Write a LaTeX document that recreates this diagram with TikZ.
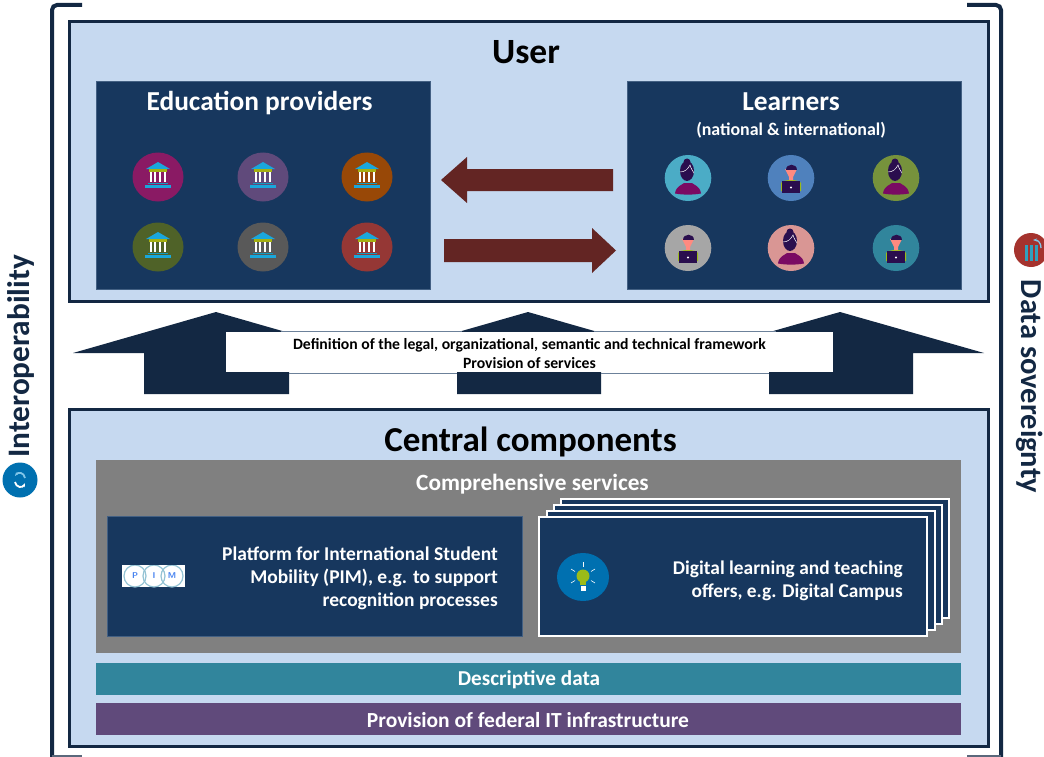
\documentclass[tikz,border=0pt]{standalone}
\usepackage{fontspec}
\setmainfont{Carlito}
\usepackage{tikz}
\usetikzlibrary{positioning,calc,arrows.meta}
\definecolor{panelblue}{HTML}{C6D9F0}
\definecolor{navy}{HTML}{17375E}
\definecolor{darkline}{HTML}{132843}
\definecolor{darkred}{HTML}{632523}
\definecolor{roofblue}{HTML}{1AA7DC}
\definecolor{barolive}{HTML}{A5B012}
\definecolor{hairdark}{HTML}{2A0E4E}
\definecolor{shirtmag}{HTML}{7A0A63}
\definecolor{facepink}{HTML}{FF8A80}
\definecolor{shirtgreen}{HTML}{9BBB19}
\definecolor{bankmag}{HTML}{8A1A64}
\definecolor{purpleband}{HTML}{604A7B}
\definecolor{bankorange}{HTML}{984807}
\definecolor{bankolive}{HTML}{4F6228}
\definecolor{bankgrey}{HTML}{595959}
\definecolor{bankred}{HTML}{953735}
\definecolor{learncyan}{HTML}{4BACC6}
\definecolor{learnblue}{HTML}{4F81BD}
\definecolor{learnolive}{HTML}{76923C}
\definecolor{learngrey}{HTML}{A6A6A6}
\definecolor{learnpink}{HTML}{D99694}
\definecolor{tealband}{HTML}{31859C}
\definecolor{iconblue}{HTML}{0070B0}
\definecolor{iconred}{HTML}{A5332E}
\definecolor{barteal}{HTML}{31A0BE}
\definecolor{pimblue}{HTML}{4682F0}
\tikzset{
  panel/.style={draw=darkline, fill=panelblue, line width=3pt},
  navybox/.style={fill=navy, draw=navy!75!panelblue, line width=0.6pt},
  stackbox/.style={draw=white, fill=navy, line width=1.6pt},
  flowarrow/.style={fill=darkred},
  uparrow/.style={fill=darkline},
  bracket/.style={draw=darkline, line width=4pt, rounded corners=5pt},
  whitetext/.style={text=white, font=\bfseries\fontsize{#1}{#1}\selectfont, inner sep=0pt},
  blacktext/.style={text=black, font=\bfseries\fontsize{#1}{#1}\selectfont, inner sep=0pt},
  sidetext/.style={text=darkline, font=\bfseries\fontsize{#1}{#1}\selectfont, inner sep=0pt},
  bankicon/.pic={
    \fill[roofblue] (-12,-8) -- (0,-15) -- (12,-8) -- cycle;
    \fill[barolive] (-9,-8) rectangle (9,-5);
    \foreach \cx in {-7.3,-2.6,2.1,6.8} \fill[white] (\cx-1,-5) rectangle (\cx+1,5.2);
    \fill[roofblue!70!teal] (-10,5.6) rectangle (10,7);
    \fill[roofblue] (-13,8) rectangle (13,10.6);
  },
  womanicon/.pic={
    \fill[shirtmag] (-13,15.5) .. controls (-12,8) and (-6,7) .. (-4,5) -- (4,5) .. controls (6,7) and (12,8) .. (13,15.5) .. controls (5,17) and (-5,17) .. (-13,15.5) -- cycle;
    \fill[hairdark] (-1,-7) ellipse (7 and 10);
    \fill[hairdark] (-1,-16) circle (3.5);
    \draw[white, line width=0.5pt] (-8,-6) .. controls (-3,-6) and (0,-9) .. (2,-13) .. controls (3,-9) and (5,-7) .. (6,-5);
  },
  manicon/.pic={
    \fill[shirtgreen] (-10,13) -- (-10,5) .. controls (-8,1) and (8,1) .. (10,5) -- (10,13) -- cycle;
    \fill[facepink] (-6,-9) -- (6,-9) -- (2,-1) -- (2,2) -- (-2,2) -- (-2,-1) -- cycle;
    \fill[hairdark] (-5.5,-8) .. controls (-5.5,-15) and (5.5,-15) .. (5.5,-8) -- cycle;
    \fill[hairdark] (-9,3) rectangle (9,15);
    \fill[white] (0,9.5) circle (1.1);
  },
}
\begin{document}
\begin{tikzpicture}[x=1pt,y=-1pt]
\useasboundingbox (0,0) rectangle (1044,757);

% brackets
\draw[bracket] (82,5) -- (52,5) -- (52,770);
\draw[bracket] (967,5) -- (1001,5) -- (1001,770);
\draw[draw=darkline!70, line width=1.5pt] (52,756) -- (82,756);
\draw[draw=darkline!70, line width=1.5pt] (967,756) -- (1001,756);

% user panel
\filldraw[panel] (69,22) rectangle (988,301);
\node[blacktext=35.5] (user) at (526,52) {User};
\filldraw[navybox] (96,81) rectangle (430,289);
\filldraw[navybox] (627,81) rectangle (961,289);
\node[whitetext=27.4, anchor=base] (providers) at (259.5,110.5) {Education providers};
\node[whitetext=27.4, anchor=base] (learners) at (791,110.5) {Learners};
\node[whitetext=17.9, anchor=base] (national) at (791,135.5) {(national \& international)};

\fill[flowarrow] (441,180) -- (467,157) -- (467,169) -- (613,169) -- (613,191) -- (467,191) -- (467,203) -- cycle;
\fill[flowarrow] (616,250.5) -- (592,228) -- (592,239) -- (444,239) -- (444,262) -- (592,262) -- (592,273) -- cycle;

% bank icons
\fill[bankmag] (158,177) ellipse (25.5 and 24.5);
\fill[purpleband] (263,177) ellipse (25.5 and 24.5);
\fill[bankorange] (367,177) ellipse (25.5 and 24.5);
\fill[bankolive] (158,247) ellipse (25.5 and 24.5);
\fill[bankgrey] (263,247) ellipse (25.5 and 24.5);
\fill[bankred] (367,247) ellipse (25.5 and 24.5);
\foreach \bx in {158,263,367}
  \foreach \by in {177,247}
    \pic at (\bx,\by) {bankicon};

% learner icons
\fill[learncyan] (688,178) ellipse (23.3 and 23);
\fill[learnblue] (791,178) ellipse (23.3 and 23);
\fill[learnolive] (896,178) ellipse (23.3 and 23);
\fill[learngrey] (688,248) ellipse (23.3 and 23);
\fill[learnpink] (791,248) ellipse (23.3 and 23);
\fill[tealband] (896,248) ellipse (23.3 and 23);
\pic at (688,178) {womanicon};
\pic at (791,178) {manicon};
\pic at (896,178) {womanicon};
\pic at (688,248) {manicon};
\pic at (791,248) {womanicon};
\pic at (896,248) {manicon};

% arrows up
\fill[uparrow] (73,353) -- (216,312) -- (359,353) -- (289,353) -- (289,394) -- (144,394) -- (144,353) -- cycle;
\fill[uparrow] (385,353) -- (528,312) -- (671,353) -- (601,353) -- (601,394) -- (457,394) -- (457,353) -- cycle;
\fill[uparrow] (696,353) -- (840,312) -- (984,353) -- (913,353) -- (913,394) -- (769,394) -- (769,353) -- cycle;
\fill[white] (226,332) rectangle (833,372);
\draw[panelblue!50!darkline, line width=0.6pt] (281,331) -- (462,331);
\draw[panelblue!50!darkline, line width=0.6pt] (594,331) -- (776,331);
\draw[panelblue!50!darkline, line width=0.6pt] (289,373.5) -- (457,373.5);
\draw[panelblue!50!darkline, line width=0.6pt] (601,373.5) -- (769,373.5);
\node[blacktext=15.7] (framework) at (529.5,345) {Definition of the legal, organizational, semantic and technical framework};
\node[blacktext=15.7] (services) at (529.5,363.5) {Provision of services};

% central components
\filldraw[panel] (69,409) rectangle (988,746);
\node[blacktext=35] (central) at (530.5,441.5) {Central components};
\fill[black!50] (96,460) rectangle (961,653);
\node[whitetext=23.3] (comprehensive) at (532.5,484.5) {Comprehensive services};

\filldraw[navybox] (107,516) rectangle (522,636);
\fill[white] (122,565) rectangle (185,587);
\begin{scope}
\clip (122,565) rectangle (185,587);
\foreach \lx/\lt in {135/P,154/I,172/M} {
  \draw[panelblue!75!teal, line width=1.2pt] (\lx,576) circle (11);
  \node[text=pimblue, font=\sffamily\bfseries\fontsize{8.5}{8.5}\selectfont, inner sep=0pt] (pim\lt) at (\lx,576) {\lt};
}
\end{scope}
\node[whitetext=19.5, align=right, anchor=east, font=\bfseries\fontsize{19.5}{23}\selectfont] (platform) at (498,578.5) {Platform for International Student\\Mobility (PIM), e.g. to support\\recognition processes};

\filldraw[stackbox] (561,499) rectangle (949,618);
\filldraw[stackbox] (554,505) rectangle (942,624);
\filldraw[stackbox] (547,511) rectangle (935,630);
\filldraw[stackbox] (539,517) rectangle (927,636);
\fill[iconblue] (583,577) ellipse (26 and 24);
\fill[shirtgreen] (583,576) circle (6.5);
\fill[shirtgreen] (580,579) rectangle (586,585);
\fill[white] (580.5,585.5) rectangle (585.5,590.5);
\foreach \rayx/\rayy/\rayu/\rayv in {583/562/583/567,571/569/575/571.5,595/569/591/571.5,571/583/575/580.5,595/583/591/580.5}
  \draw[white!85!panelblue, line width=0.6pt] (\rayx,\rayy) -- (\rayu,\rayv);
\node[whitetext=19.4, align=right, anchor=east, font=\bfseries\fontsize{19.4}{23}\selectfont] (digital) at (903,581) {Digital learning and teaching\\offers, e.g. Digital Campus};

\fill[tealband] (96,663) rectangle (961,695);
\node[whitetext=21.2] (descriptive) at (529,680) {Descriptive data};
\fill[purpleband] (96,703) rectangle (961,735);
\node[whitetext=21.5] (federal) at (528,720) {Provision of federal IT infrastructure};

% side labels
\node[sidetext=31.3, rotate=90] (interop) at (21,356.5) {Interoperability};
\fill[iconblue] (20,480) circle (17.5);
\draw[white, line width=1.8pt, -{Stealth[length=4pt]}] (15,482) .. controls (16,488) and (23,488) .. (25,483);
\draw[panelblue!60!roofblue, line width=1.8pt, -{Stealth[length=4pt]}] (25,478) .. controls (24,472) and (18,472) .. (15,476);

\node[sidetext=30.5, rotate=-90] (sovereignty) at (1029.5,386.5) {Data sovereignty};
\fill[iconred] (1031,250) circle (17);
\foreach \dx in {1026.5,1031.5,1036.5} \fill[barteal] (\dx-1.7,245) rectangle (\dx+1.7,261);
\draw[panelblue!60!roofblue, line width=1.3pt, -{Stealth[length=4pt]}] (1041,248) .. controls (1041,243) and (1038,240) .. (1033,240);
\end{tikzpicture}
\end{document}
